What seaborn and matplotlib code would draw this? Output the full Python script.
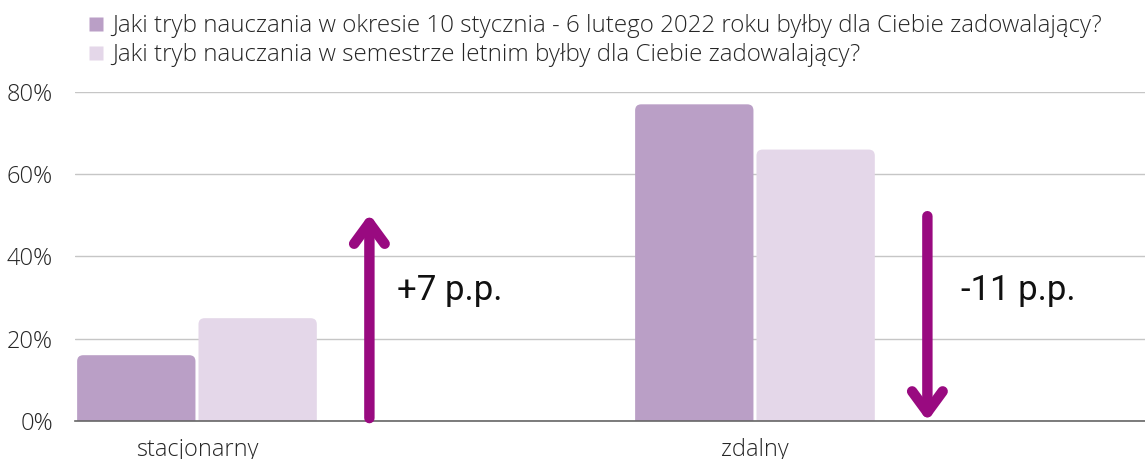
import matplotlib
matplotlib.use('Agg')
import matplotlib.pyplot as plt
from matplotlib.patches import FancyBboxPatch
from matplotlib.ticker import FuncFormatter
import pandas as pd
import seaborn as sns

# data
categories = ["stacjonarny", "zdalny"]
series_names = [
    "Jaki tryb nauczania w okresie 10 stycznia - 6 lutego 2022 roku byłby dla Ciebie zadowalający?",
    "Jaki tryb nauczania w semestrze letnim byłby dla Ciebie zadowalający?",
]
values_jan = [16, 77]
values_summer = [25, 66]
changes = ["+7 p.p.", "-11 p.p."]

colors = ["#BA9FC6", "#E4D7E9"]
arrow_color = "#990A80"
text_color = "#262626"

df = pd.DataFrame({
    "tryb": categories * 2,
    "seria": [series_names[0]] * 2 + [series_names[1]] * 2,
    "wartosc": values_jan + values_summer,
})

sns.set_style("white")
plt.rcParams['font.family'] = ['Open Sans', 'DejaVu Sans']

fig = plt.figure(figsize=(11.45, 4.59), dpi=100)
ax = fig.add_axes([0.0655, 0.0828, 0.9345, 0.7168])

sns.barplot(data=df, x="tryb", y="wartosc", hue="seria", palette=colors,
            width=0.435, gap=0.025, ax=ax, legend=False, saturation=1)

# rounded top corners
bars = list(ax.patches)
for p in bars:
    x, w, h = p.get_x(), p.get_width(), p.get_height()
    fc = p.get_facecolor()
    p.remove()
    r = 0.011
    box = FancyBboxPatch((x, -3), w, h + 3,
                         boxstyle=f"round,pad=0,rounding_size={r}",
                         mutation_aspect=135, facecolor=fc, edgecolor="none",
                         zorder=2)
    ax.add_patch(box)

ax.set_xlim(-0.2186, 1.699)
ax.set_ylim(0, 80)
ax.set_yticks([0, 20, 40, 60, 80])
ax.yaxis.set_major_formatter(FuncFormatter(lambda v, _: f"{v:.0f}%"))
ax.grid(axis="y", color="#C6C6C6", linewidth=1)
ax.set_axisbelow(True)
for s in ["top", "right", "left"]:
    ax.spines[s].set_visible(False)
ax.spines["bottom"].set_color("#666666")
ax.spines["bottom"].set_linewidth(1.2)
ax.spines["bottom"].set_zorder(3)
ax.tick_params(axis="both", length=0, labelsize=17, labelcolor=text_color)
ax.tick_params(axis="y", pad=16)
ax.tick_params(axis="x", pad=12)
for lbl in ax.get_xticklabels() + ax.get_yticklabels():
    lbl.set_fontweight("light")
ax.set_xlabel("")
ax.set_ylabel("")

# change arrows
for i, (a, b, txt) in enumerate(zip(values_jan, values_summer, changes)):
    xa = i + 0.309
    if b > a:
        start, end = 0.7, 50.3
    else:
        start, end = 49.8, 0.0
    ax.annotate("", xy=(xa, end), xytext=(xa, start),
                arrowprops=dict(arrowstyle="->,head_length=1.5,head_width=1.1",
                                color=arrow_color, lw=7.5, capstyle="round",
                                joinstyle="round", shrinkA=0, shrinkB=0),
                zorder=4, annotation_clip=False)
    ax.text(xa + 0.05 + 0.01 * i, 31.8, txt, fontsize=25, family="Roboto",
            color="#111111", va="center", ha="left")

# legend
handles = [plt.Line2D([], [], marker="s", linestyle="none", markersize=10,
                      markerfacecolor=c, markeredgecolor="none") for c in colors]
leg = fig.legend(handles, series_names, loc="upper left", bbox_to_anchor=(0.061, 1.0),
                 frameon=False, handletextpad=0.15, labelspacing=0.2,
                 handlelength=1.0, borderaxespad=0.2,
                 prop={"family": "Open Sans", "weight": "light", "size": 17.4})
for t in leg.get_texts():
    t.set_color(text_color)

fig.savefig("out.png", dpi=100)
